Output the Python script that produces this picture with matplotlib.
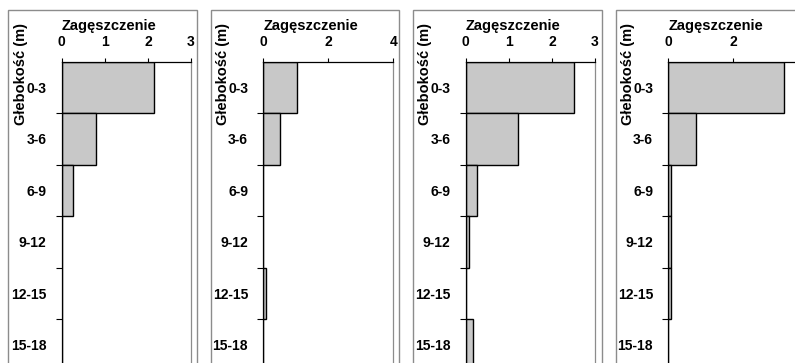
import matplotlib
matplotlib.use("Agg")
import matplotlib.pyplot as plt
from matplotlib.patches import Rectangle

plt.rcParams["font.family"] = ["Liberation Sans", "DejaVu Sans"]
plt.rcParams["font.weight"] = "bold"

depths = ["0-3", "3-6", "6-9", "9-12", "12-15", "15-18"]
panel1 = [2.15, 0.79, 0.26, 0.0, 0.0, 0.0]
panel2 = [1.05, 0.52, 0.0, 0.0, 0.09, 0.0]
panel3 = [2.52, 1.22, 0.27, 0.08, 0.0, 0.17]
panel4 = [3.55, 0.86, 0.07, 0.07, 0.07, 0.0]
panelValues = [panel1, panel2, panel3, panel4]
panelMax = [3, 4, 3, 4]
panelTicks = [[0, 1, 2, 3], [0, 2, 4], [0, 1, 2, 3], [0, 2, 4]]

xTitle = "Zagęszczenie"
yTitle = "Głebokość (m)"

W, H = 795, 363
fig = plt.figure(figsize=(W / 100, H / 100), dpi=100)

# pixel layout of each panel: outer frame left/right, plot area left/right
frameLeft = [8, 211, 413, 616]
frameRight = [197, 399, 602, 805]
axLeft = [61.7, 263.3, 465.7, 668.3]
axRight = [191, 393.3, 595, 798.3]
axTop = 61.7
axBottom = 370.5

def px(x, y):
    return x / W, 1 - y / H

for i in range(4):
    # outer chart frame
    fx, fy = px(frameLeft[i], 400)
    fig.patches.append(Rectangle((fx, fy), (frameRight[i] - frameLeft[i]) / W, (400 - 10) / H,
                                 transform=fig.transFigure, fill=False, edgecolor="#8c8c8c", lw=1.0))

    l, b = px(axLeft[i], axBottom)
    ax = fig.add_axes([l, b, (axRight[i] - axLeft[i]) / W, (axBottom - axTop) / H])
    vals = panelValues[i]
    pos = list(range(len(depths)))
    ax.barh(pos, vals, height=1.0, color="#c8c8c8", edgecolor="black", linewidth=1.0)
    ax.set_ylim(len(depths) - 0.5, -0.5)
    ax.set_xlim(0, panelMax[i])

    ax.xaxis.tick_top()
    ax.set_xticks(panelTicks[i])
    ax.set_xticklabels([str(t) for t in panelTicks[i]], fontsize=10, fontweight="bold")
    ax.tick_params(axis="x", direction="out", length=3, width=0.8, pad=6.5)

    ax.set_yticks(pos)
    ax.set_yticklabels(depths, fontsize=10, fontweight="bold")
    ax.set_yticks([p + 0.5 for p in pos[:-1]], minor=True)
    ax.tick_params(axis="y", which="major", length=0, pad=11)
    ax.tick_params(axis="y", which="minor", direction="out", length=4, width=0.8)

    ax.spines["bottom"].set_visible(False)
    ax.spines["right"].set_color("#8c8c8c")
    ax.spines["top"].set_color("black")
    ax.spines["left"].set_color("black")
    for s in ["top", "left", "right"]:
        ax.spines[s].set_linewidth(0.9)

    tx, ty = px(axLeft[i] + 47.5, 26)
    fig.text(tx, ty, xTitle, ha="center", va="center", fontsize=10.5, fontweight="bold")
    lx, ly = px(axLeft[i] - 40.5, 74)
    fig.text(lx, ly, yTitle, ha="center", va="center", rotation=90, fontsize=10.5, fontweight="bold")

fig.savefig("out.png", dpi=100)
